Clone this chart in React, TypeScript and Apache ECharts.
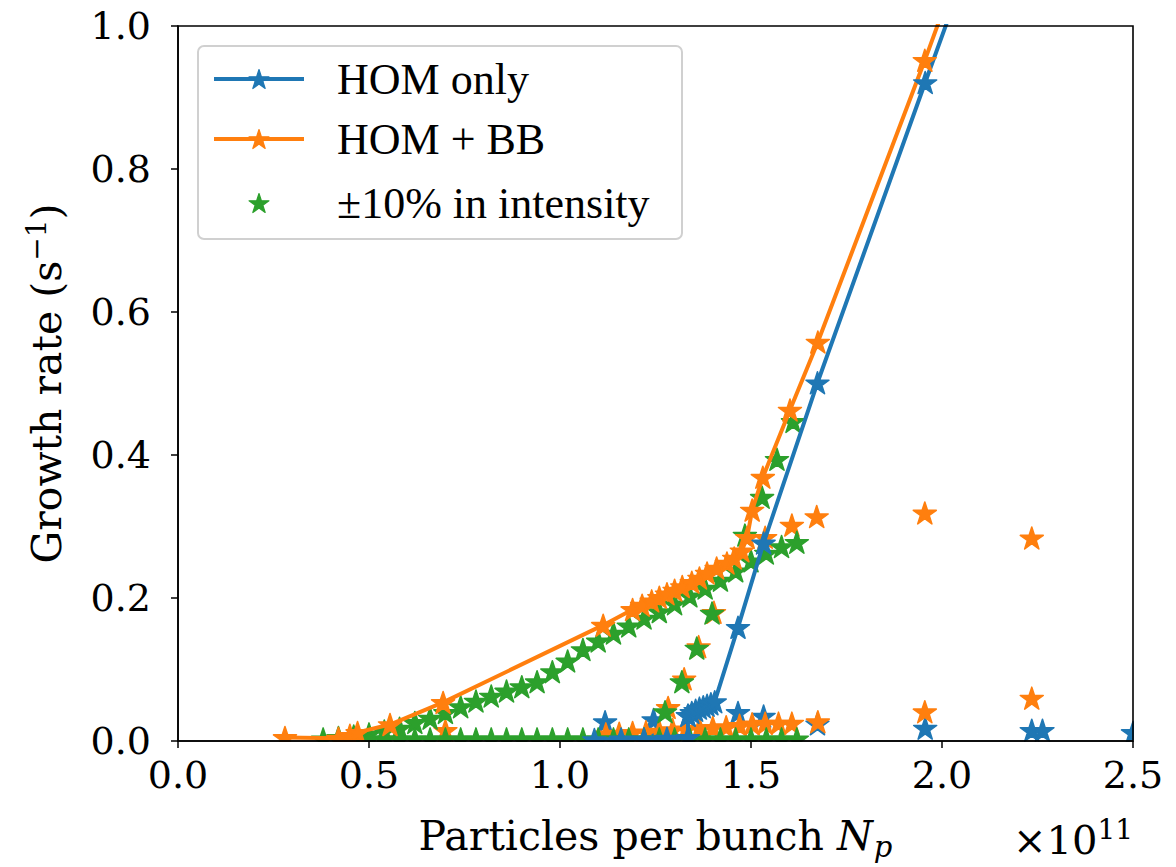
import React, { useEffect, useRef } from "react";
import * as echarts from "echarts";

// ---------- data (N_p in units of 1e11, growth rate in 1/s) ----------
const xTickValues = [0.0, 0.5, 1.0, 1.5, 2.0, 2.5];
const yTickValues = [0.0, 0.2, 0.4, 0.6, 0.8, 1.0];

const seriesNames = ["HOM only", "HOM + BB", "±10% in intensity"];

// HOM only, main mode: low (stable) part, partly hidden under other markers
const homOnlyLow: [number, number][] = [
  [1.09, 0.002], [1.16, 0.003], [1.22, 0.003], [1.28, 0.004], [1.335, 0.005],
  [1.335, 0.036],
];
// HOM only, main mode: unstable part (line + markers)
const homOnlyMain: [number, number][] = [
  [1.335, 0.036], [1.345, 0.040], [1.355, 0.043], [1.365, 0.046], [1.375, 0.048],
  [1.385, 0.050], [1.395, 0.052], [1.405, 0.055], [1.466, 0.159], [1.533, 0.277],
  [1.674, 0.501], [1.956, 0.921], [2.24, 1.34],
];
// HOM only, other modes (markers only)
const homOnlyOther: [number, number][] = [
  [1.118, 0.027], [1.245, 0.030], [1.254, 0.011], [1.466, 0.040], [1.533, 0.035],
  [1.674, 0.024], [1.956, 0.018], [2.235, 0.015], [2.263, 0.015], [2.5, 0.012],
];

// HOM + BB, main mode (line + markers)
const homBBMain: [number, number][] = [
  [0.28, 0.005], [0.42, 0.004], [0.45, 0.008], [0.47, 0.012], [0.555, 0.023],
  [0.694, 0.054], [1.113, 0.162], [1.19, 0.184], [1.215, 0.19], [1.24, 0.196],
  [1.26, 0.201], [1.28, 0.206], [1.30, 0.211], [1.32, 0.216], [1.345, 0.222],
  [1.365, 0.228], [1.385, 0.235], [1.41, 0.242], [1.437, 0.249], [1.456, 0.256],
  [1.476, 0.266], [1.49, 0.285], [1.503, 0.323], [1.531, 0.369], [1.602, 0.463],
  [1.675, 0.558], [1.955, 0.952], [2.24, 1.37],
];
// HOM + BB, modes hidden behind the green points
const homBBUnder: [number, number][] = [
  [1.283, 0.047], [1.325, 0.087], [1.363, 0.132], [1.403, 0.180],
];
// HOM + BB, other modes (markers only)
const homBBOther: [number, number][] = [
  [0.70, 0.015], [1.12, 0.010], [1.155, 0.011], [1.19, 0.012], [1.225, 0.013],
  [1.26, 0.014], [1.295, 0.016], [1.33, 0.017], [1.365, 0.018], [1.40, 0.019],
  [1.435, 0.020], [1.47, 0.022], [1.503, 0.024], [1.537, 0.025], [1.572, 0.025],
  [1.607, 0.025], [1.675, 0.027], [1.955, 0.041], [2.235, 0.060],
  [1.537, 0.285], [1.607, 0.302], [1.672, 0.314], [1.955, 0.319], [2.235, 0.284],
];

// ±10% in intensity (markers only)
const intensityScan: [number, number][] = [
  // upper branch
  [0.42, 0.005], [0.46, 0.007], [0.50, 0.010], [0.54, 0.014], [0.58, 0.018],
  [0.62, 0.026], [0.66, 0.032], [0.70, 0.040], [0.74, 0.048], [0.78, 0.056],
  [0.82, 0.063], [0.86, 0.070], [0.90, 0.076], [0.94, 0.083], [0.98, 0.097],
  [1.02, 0.112], [1.06, 0.128], [1.10, 0.140], [1.14, 0.151], [1.18, 0.161],
  [1.22, 0.172], [1.26, 0.181], [1.30, 0.192], [1.34, 0.203], [1.38, 0.214],
  [1.42, 0.225], [1.46, 0.238], [1.50, 0.252], [1.54, 0.263], [1.58, 0.272],
  [1.62, 0.278],
  // steep branch
  [1.484, 0.288], [1.529, 0.341], [1.568, 0.394], [1.61, 0.447],
  // intermediate modes
  [1.275, 0.041], [1.319, 0.083], [1.358, 0.130], [1.398, 0.179],
  // bottom row
  [0.38, 0.003], [0.42, 0.003], [0.46, 0.003], [0.50, 0.003], [0.54, 0.003],
  [0.58, 0.003], [0.62, 0.003], [0.66, 0.003], [0.70, 0.003], [0.74, 0.003],
  [0.78, 0.003], [0.82, 0.003], [0.86, 0.003], [0.90, 0.003], [0.94, 0.003],
  [0.98, 0.003], [1.02, 0.003], [1.06, 0.003], [1.10, 0.003], [1.14, 0.003],
  [1.18, 0.003], [1.22, 0.003], [1.26, 0.003], [1.30, 0.003], [1.34, 0.003],
  [1.38, 0.003], [1.42, 0.003], [1.46, 0.003], [1.50, 0.003], [1.54, 0.003],
  [1.58, 0.003], [1.62, 0.003],
];

// ---------- styling ----------
const BLUE = "#1f77b4";
const ORANGE = "#ff7f0e";
const GREEN = "#2ca02c";
const AXIS_FONT = "'DejaVu Serif', 'Liberation Serif', serif";
const LEGEND_FONT = "'Liberation Serif', 'DejaVu Serif', serif";
const STAR =
  "path://M0,-10L2.245,-3.09L9.511,-3.09L3.633,1.18L5.878,8.09L0,3.82L-5.878,8.09L-3.633,1.18L-9.511,-3.09L-2.245,-3.09Z";
const STAR_SIZE = [23, 22];

function starPoints(cx: number, cy: number, R: number): number[][] {
  const pts: number[][] = [];
  for (let k = 0; k < 10; k++) {
    const a = (k * Math.PI) / 5;
    const rr = k % 2 === 0 ? R : R * 0.382;
    pts.push([cx + rr * Math.sin(a), cy - rr * Math.cos(a)]);
  }
  return pts;
}

function markerStyle(color: string) {
  return { color, borderColor: color, borderWidth: 1.5, borderJoin: "round", opacity: 1 };
}

function lineSeries(name: string, data: [number, number][], color: string) {
  return {
    name,
    type: "line",
    data,
    symbol: STAR,
    symbolSize: STAR_SIZE,
    showAllSymbol: true,
    lineStyle: { color, width: 4, opacity: 1 },
    itemStyle: markerStyle(color),
    clip: true,
    silent: true,
  };
}

function scatterSeries(name: string, data: [number, number][], color: string) {
  return {
    name,
    type: "scatter",
    data,
    symbol: STAR,
    symbolSize: STAR_SIZE,
    itemStyle: markerStyle(color),
    clip: true,
    silent: true,
  };
}

export default function App() {
  const ref = useRef<HTMLDivElement>(null);

  useEffect(() => {
    if (!ref.current) return;
    const chart = echarts.init(ref.current, undefined, { renderer: "svg" });

    const rows = [79, 139, 203];
    const legendColors = [BLUE, ORANGE, GREEN];

    const legendGraphics: any[] = [
      {
        type: "rect",
        z: 50,
        shape: { x: 198, y: 46, width: 484, height: 193, r: 6 },
        style: { fill: "rgba(255,255,255,0.85)", stroke: "#d0d0d0", lineWidth: 2 },
      },
    ];
    rows.forEach((y, i) => {
      if (i < 2) {
        legendGraphics.push({
          type: "line",
          z: 51,
          shape: { x1: 214, y1: y, x2: 304, y2: y },
          style: { stroke: legendColors[i], lineWidth: 4 },
        });
      }
      legendGraphics.push({
        type: "polygon",
        z: 52,
        shape: { points: starPoints(259, y + 1, 10.5) },
        style: { fill: legendColors[i], stroke: legendColors[i], lineWidth: 1.2, lineJoin: "round" },
      });
      legendGraphics.push({
        type: "text",
        z: 52,
        x: 337,
        y,
        style: {
          text: seriesNames[i],
          font: `44px ${LEGEND_FONT}`,
          fill: "#000",
          verticalAlign: "middle",
        },
      });
    });

    // white masks that clip markers at the plot edges (as the axes clip them)
    const masks: any[] = [
      {
        type: "rect",
        z: 5,
        silent: true,
        shape: { x: 150, y: 742, width: 1026, height: 12 },
        style: { fill: "#ffffff" },
      },
      {
        type: "rect",
        z: 5,
        silent: true,
        shape: { x: 1134, y: 0, width: 42, height: 754 },
        style: { fill: "#ffffff" },
      },
    ];

    const option: any = {
      animation: false,
      backgroundColor: "#ffffff",
      grid: {
        left: 178,
        top: 26,
        right: 43,
        bottom: 126,
        show: true,
        z: 10,
        borderColor: "#000",
        borderWidth: 1.6,
        backgroundColor: "transparent",
      },
      xAxis: {
        type: "value",
        z: 10,
        min: xTickValues[0],
        max: xTickValues[xTickValues.length - 1],
        interval: 0.5,
        splitLine: { show: false },
        axisLine: { show: true, lineStyle: { color: "#000", width: 1.6 } },
        axisTick: { show: true, length: 7, lineStyle: { color: "#000", width: 1.5 } },
        axisLabel: {
          color: "#000",
          fontSize: 38,
          fontFamily: AXIS_FONT,
          margin: 15,
          formatter: (v: number) => v.toFixed(1),
        },
        name: "{a|Particles per bunch }{i|N}{s|p}",
        nameLocation: "middle",
        nameGap: 70,
        nameTextStyle: {
          rich: {
            a: { fontSize: 41, fontFamily: AXIS_FONT, color: "#000", lineHeight: 50 },
            i: { fontSize: 41, fontFamily: AXIS_FONT, fontStyle: "italic", color: "#000", lineHeight: 50 },
            s: {
              fontSize: 29,
              fontFamily: AXIS_FONT,
              fontStyle: "italic",
              color: "#000",
              lineHeight: 22,
              verticalAlign: "bottom",
              padding: [0, 0, 0, 1],
            },
          },
        },
      },
      yAxis: {
        type: "value",
        z: 10,
        min: yTickValues[0],
        max: yTickValues[yTickValues.length - 1],
        interval: 0.2,
        splitLine: { show: false },
        axisLine: { show: true, lineStyle: { color: "#000", width: 1.6 } },
        axisTick: { show: true, length: 7, lineStyle: { color: "#000", width: 1.5 } },
        axisLabel: {
          color: "#000",
          fontSize: 38,
          fontFamily: AXIS_FONT,
          margin: 27,
          formatter: (v: number) => v.toFixed(1),
        },
        name: "{a|Growth rate (s}{s|−1}{a|)}",
        nameLocation: "middle",
        nameGap: 106,
        nameTextStyle: {
          rich: {
            a: { fontSize: 41, fontFamily: AXIS_FONT, color: "#000", lineHeight: 50 },
            s: { fontSize: 28, fontFamily: AXIS_FONT, color: "#000", lineHeight: 30, verticalAlign: "top" },
          },
        },
      },
      graphic: [
        ...masks,
        {
          type: "text",
          z: 10,
          x: 1013,
          y: 815,
          style: {
            text: "{a|×10}{s|11}",
            rich: {
              a: { fontSize: 40, fontFamily: AXIS_FONT, fill: "#000", lineHeight: 50 },
              s: { fontSize: 28, fontFamily: AXIS_FONT, fill: "#000", lineHeight: 30, verticalAlign: "top" },
            },
          },
        },
        ...legendGraphics,
      ],
      series: [
        lineSeries(seriesNames[0], homOnlyLow, BLUE),
        scatterSeries(seriesNames[0], homOnlyOther, BLUE),
        lineSeries(seriesNames[1], homBBMain, ORANGE),
        scatterSeries(seriesNames[1], homBBUnder, ORANGE),
        scatterSeries(seriesNames[1], homBBOther, ORANGE),
        scatterSeries(seriesNames[2], intensityScan, GREEN),
        lineSeries(seriesNames[0], homOnlyMain, BLUE),
      ],
    };

    chart.setOption(option);
    return () => chart.dispose();
  }, []);

  return (
    <div
      ref={ref}
      style={{ position: "fixed", left: 0, top: 0, width: 1176, height: 867, background: "#fff" }}
    />
  );
}
